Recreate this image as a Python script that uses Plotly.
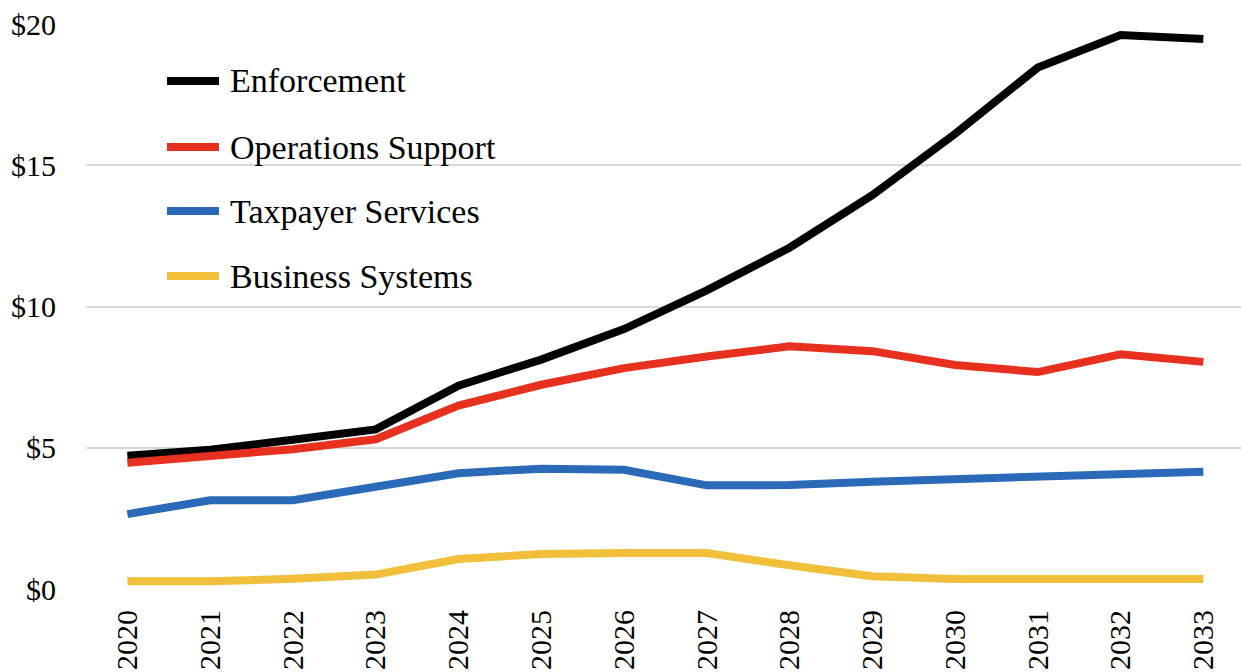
import plotly.graph_objects as go

years = [str(y) for y in range(2020, 2034)]
enforcement = [4.72, 4.93, 5.28, 5.65, 7.20, 8.12, 9.20, 10.57, 12.08, 13.94, 16.11, 18.46, 19.61, 19.47]
operations_support = [4.47, 4.72, 4.95, 5.30, 6.49, 7.23, 7.82, 8.23, 8.59, 8.42, 7.93, 7.68, 8.31, 8.04]
taxpayer_services = [2.65, 3.14, 3.14, 3.61, 4.10, 4.26, 4.22, 3.67, 3.68, 3.80, 3.90, 4.01, 4.08, 4.15]
business_systems = [0.27, 0.27, 0.36, 0.51, 1.06, 1.24, 1.27, 1.27, 0.84, 0.45, 0.35, 0.35, 0.35, 0.35]

series_names = ["Enforcement", "Operations Support", "Taxpayer Services", "Business Systems"]
series_values = [enforcement, operations_support, taxpayer_services, business_systems]
colors = ["#000000", "#e8301e", "#2a6ab8", "#f2bf3a"]

y_tickvals = [0, 5, 10, 15, 20]
y_ticktext = ["$0", "$5", "$10", "$15", "$20"]

FONT = "Liberation Serif"

fig = go.Figure()
for name, vals, col in zip(series_names, series_values, colors):
    fig.add_trace(go.Scatter(x=years, y=vals, name=name, mode="lines",
                             line=dict(color=col, width=8), showlegend=False))

W, H = 1241, 672
ml, mr, mt, mb = 86, 0, 24, 83
pw, ph = W - ml - mr, H - mt - mb

def px2paper_x(px):
    return (px - ml) / pw

def px2paper_y(py):
    return (H - mb - py) / ph

legend_y = [81, 147, 211, 276]
shapes = []
annotations = []
for name, col, ly in zip(series_names, colors, legend_y):
    shapes.append(dict(type="line", xref="paper", yref="paper",
                       x0=px2paper_x(167), x1=px2paper_x(219),
                       y0=px2paper_y(ly), y1=px2paper_y(ly),
                       line=dict(color=col, width=8)))
    annotations.append(dict(xref="paper", yref="paper", x=px2paper_x(228), y=px2paper_y(ly),
                            text=name, showarrow=False, xanchor="left", yanchor="middle",
                            font=dict(family=FONT, size=34, color="black")))

fig.update_layout(
    width=W, height=H,
    margin=dict(l=ml, r=mr, t=mt, b=mb),
    paper_bgcolor="white", plot_bgcolor="white",
    showlegend=False,
    font=dict(family=FONT),
    shapes=shapes, annotations=annotations,
    xaxis=dict(type="category", range=[-0.5, 13.455], showgrid=False, zeroline=False,
               tickangle=-90, ticks="", ticklabelstandoff=14,
               tickfont=dict(family=FONT, size=30, color="black"),
               showline=False),
    yaxis=dict(range=[0, 20], tickvals=y_tickvals, ticktext=y_ticktext,
               showgrid=True, gridcolor="#d9d9d9", gridwidth=1.5, zeroline=False,
               ticks="", ticklabelstandoff=29,
               tickfont=dict(family=FONT, size=30, color="black")),
)

fig.write_html("out.html")
